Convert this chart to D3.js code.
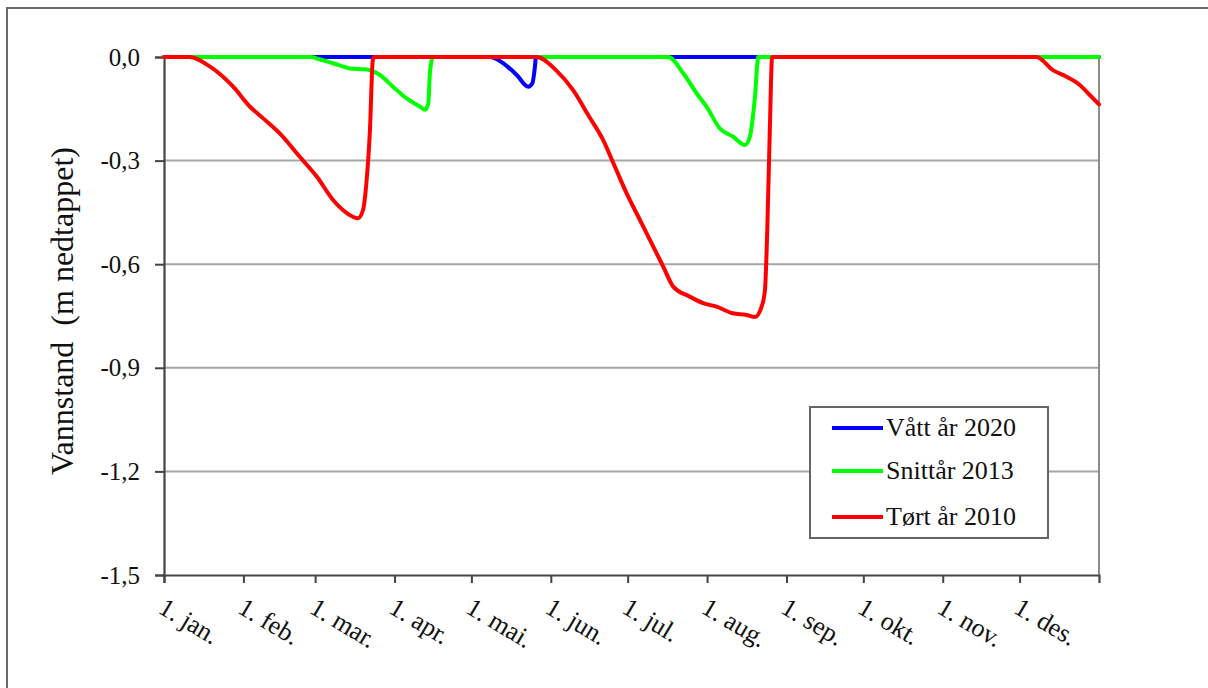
<!DOCTYPE html>
<html>
<head>
<meta charset="utf-8">
<script src="https://cdn.jsdelivr.net/npm/d3@7"></script>
<style>
  html, body { margin: 0; padding: 0; background: #fff; }
  svg { display: block; }
  text { font-family: "Liberation Serif", "Times New Roman", serif; fill: #111; }
</style>
</head>
<body>
<svg id="chart" width="1208" height="688"></svg>
<script>
// Month start ticks (day of year) and their labels
const monthDays = [0, 31, 59, 90, 120, 151, 181, 212, 243, 273, 304, 334];
const monthLabels = ["1. jan.", "1. feb.", "1. mar.", "1. apr.", "1. mai.", "1. jun.",
                     "1. jul.", "1. aug.", "1. sep.", "1. okt.", "1. nov.", "1. des."];
const yTicks = [0, -0.3, -0.6, -0.9, -1.2, -1.5];

// Vått år 2020
const wetDays   = [0, 127.2, 132.4, 137.7, 142.2, 143.8, 144.8, 145.2, 365];
const wetLevels = [0, 0, -0.018, -0.052, -0.086, -0.076, -0.028, 0, 0];

// Snittår 2013
const avgDays   = [0, 57.5, 60, 66, 72.6, 79, 84.3, 89.4, 94.7, 100, 101.9, 103.2, 103.8, 105,
                   196.8, 202.7, 207.9, 211.8, 217, 222.2, 226.8, 228.7, 230.7, 232, 365];
const avgLevels = [0, 0, -0.005, -0.018, -0.033, -0.036, -0.052, -0.086, -0.12, -0.144, -0.153, -0.134, -0.047, 0,
                   0, -0.047, -0.105, -0.144, -0.207, -0.231, -0.255, -0.231, -0.115, 0, 0];

// Tørt år 2010
const dryDays   = [0, 10, 18, 27, 33.6, 38.6, 45, 53, 59.7, 66, 71.4, 75.7, 77.7, 79, 80.4, 81.5, 82,
                   145.5, 153, 159.7, 166, 171.4, 175.4, 180.6, 185.8, 191, 194.9, 198.8, 205.3, 210.5,
                   215.7, 222, 227.4, 230.7, 233.3, 234.6, 235.5, 236.5, 237.4,
                   340.6, 347, 352.3, 357.5, 361.4, 365];
const dryLevels = [0, 0, -0.028, -0.086, -0.144, -0.177, -0.22, -0.289, -0.347, -0.414, -0.452, -0.467, -0.443, -0.366, -0.211, -0.01, 0,
                   0, -0.038, -0.096, -0.173, -0.24, -0.307, -0.395, -0.472, -0.549, -0.607, -0.665, -0.694, -0.713,
                   -0.723, -0.742, -0.747, -0.753, -0.723, -0.675, -0.50, -0.21, 0,
                   0, -0.038, -0.057, -0.081, -0.11, -0.137];

const seriesNames  = ["Vått år 2020", "Snittår 2013", "Tørt år 2010"];
const seriesColors = ["#0000ff", "#00ff00", "#ff0000"];

const series = [
  { name: seriesNames[0], color: seriesColors[0], pts: wetDays.map((d, i) => [d, wetLevels[i]]) },
  { name: seriesNames[1], color: seriesColors[1], pts: avgDays.map((d, i) => [d, avgLevels[i]]) },
  { name: seriesNames[2], color: seriesColors[2], pts: dryDays.map((d, i) => [d, dryLevels[i]]) }
];

const svg = d3.select("#chart");
const plot = { left: 164, right: 1099, top: 57, bottom: 575 };

const x = d3.scaleLinear().domain([0, 365]).range([plot.left, plot.right]);
const y = d3.scaleLinear().domain([0, -1.5]).range([plot.top, plot.bottom]);

// outer frame
svg.append("rect")
  .attr("x", 7).attr("y", 8).attr("width", 1300).attr("height", 800)
  .attr("fill", "none").attr("stroke", "#6a6a6a").attr("stroke-width", 2);

// horizontal gridlines
svg.append("g")
  .selectAll("line")
  .data(yTicks.filter(v => v !== 0 && v !== -1.5))
  .join("line")
  .attr("x1", plot.left).attr("x2", plot.right)
  .attr("y1", d => y(d)).attr("y2", d => y(d))
  .attr("stroke", "#a6a6a6").attr("stroke-width", 2);

// right border of the plot area
svg.append("line")
  .attr("x1", plot.right).attr("x2", plot.right)
  .attr("y1", plot.top).attr("y2", plot.bottom)
  .attr("stroke", "#8c8c8c").attr("stroke-width", 2);

// y axis
const yAxis = d3.axisLeft(y).tickValues(yTicks).tickSize(9).tickPadding(15)
  .tickFormat(d => d3.format(".1f")(d).replace(".", ",").replace("−", "-"));
const gy = svg.append("g").attr("transform", `translate(${plot.left},0)`).call(yAxis);
gy.attr("font-family", null);
gy.select(".domain").attr("stroke", "#444").attr("stroke-width", 2.2);
gy.selectAll(".tick line").attr("stroke", "#444").attr("stroke-width", 2);
gy.selectAll(".tick text").attr("font-size", 25).attr("fill", "#111")
  .style("font-family", '"Liberation Serif", serif');

// x axis
const xAxis = d3.axisBottom(x).tickValues(monthDays).tickSize(8).tickFormat(() => "");
const gx = svg.append("g").attr("transform", `translate(0,${plot.bottom})`).call(xAxis);
gx.select(".domain").attr("stroke", "#444").attr("stroke-width", 2.2);
gx.selectAll(".tick line").attr("stroke", "#444").attr("stroke-width", 2);

// rotated month labels
svg.append("g")
  .selectAll("text")
  .data(monthDays)
  .join("text")
  .attr("transform", (d) => `translate(${x(d) - 7},612) rotate(31)`)
  .attr("font-size", 26)
  .attr("text-anchor", "start")
  .text((d, i) => monthLabels[i]);

// y axis title
svg.append("text")
  .attr("transform", "translate(73,311) rotate(-90)")
  .attr("text-anchor", "middle")
  .attr("font-size", 32)
  .attr("xml:space", "preserve")
  .text("Vannstand  (m nedtappet)");

// data lines
const line = d3.line().x(d => x(d[0])).y(d => y(d[1])).curve(d3.curveMonotoneX);
svg.append("g")
  .selectAll("path")
  .data(series)
  .join("path")
  .attr("d", d => line(d.pts))
  .attr("fill", "none")
  .attr("stroke", d => d.color)
  .attr("stroke-width", 4)
  .attr("stroke-linejoin", "round")
  .attr("stroke-linecap", "round");

// legend
const lg = svg.append("g");
lg.append("rect")
  .attr("x", 810).attr("y", 407).attr("width", 238).attr("height", 131)
  .attr("fill", "#fff").attr("stroke", "#666").attr("stroke-width", 2);
const rowY = [428, 471, 517];
series.forEach((s, i) => {
  lg.append("line")
    .attr("x1", 832).attr("x2", 883)
    .attr("y1", rowY[i]).attr("y2", rowY[i])
    .attr("stroke", s.color).attr("stroke-width", 4);
  lg.append("text")
    .attr("x", 886).attr("y", rowY[i] + 8)
    .attr("font-size", 26)
    .text(s.name);
});
</script>
</body>
</html>
